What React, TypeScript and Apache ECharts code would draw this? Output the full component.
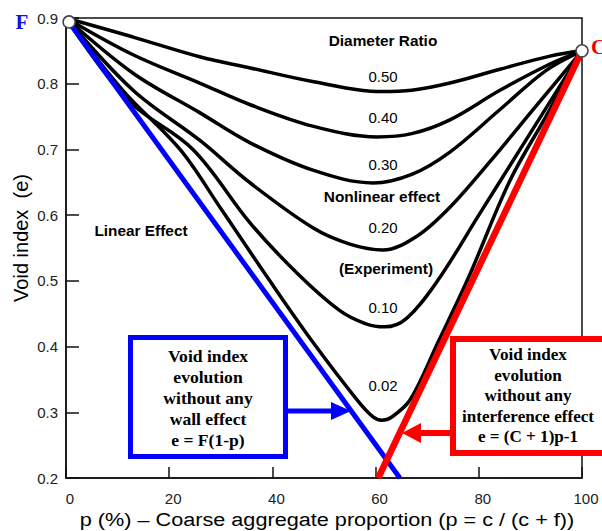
import React, { useEffect, useRef } from "react";
import * as echarts from "echarts";

const SANS = '"Liberation Sans", Arial, sans-serif';
const SERIF = '"Liberation Serif", "Times New Roman", serif';

const xTickLabels = ["0", "20", "40", "60", "80", "100"];
const ratioLabels = ["0.50", "0.40", "0.30", "0.20", "0.10", "0.02"];

const curve050 = [[0, 0.9], [13, 0.871], [25.9, 0.841], [35.7, 0.824], [48, 0.803], [61, 0.788], [67, 0.79], [74.4, 0.801], [84.1, 0.822], [93.8, 0.842], [100, 0.85]];
const curve040 = [[0, 0.9], [13, 0.844], [25.9, 0.801], [35.7, 0.768], [48, 0.735], [60.3, 0.719], [67, 0.724], [74.4, 0.745], [84.1, 0.79], [93.8, 0.83], [100, 0.85]];
const curve030 = [[0, 0.9], [13, 0.816], [25.9, 0.756], [35.7, 0.71], [48, 0.668], [59.5, 0.649], [67, 0.662], [74.4, 0.696], [84, 0.76], [93, 0.82], [100, 0.85]];
const curve020 = [[0, 0.9], [13, 0.79], [25.9, 0.714], [35.7, 0.649], [48, 0.58], [55, 0.556], [61.4, 0.547], [68, 0.568], [74.4, 0.612], [82, 0.68], [91, 0.765], [100, 0.85]];
const curve010 = [[0, 0.9], [12, 0.775], [24.6, 0.7], [35.7, 0.588], [45, 0.51], [53, 0.455], [58, 0.435], [61.8, 0.43], [66, 0.443], [72, 0.5], [80, 0.6], [88, 0.7], [100, 0.85]];
const curve002 = [[0, 0.9], [11, 0.79], [22.1, 0.7], [30, 0.61], [39.5, 0.5], [48, 0.405], [56.4, 0.319], [59.5, 0.293], [61.2, 0.288], [63, 0.292], [66.7, 0.319], [72, 0.405], [78, 0.505], [86, 0.652], [93, 0.75], [100, 0.85]];
const blueLine = [[0, 0.9], [64.7, 0.2]];
const redLine = [[60.5, 0.2], [100, 0.85]];
const endPoints = [[0.6, 0.894], [100, 0.85]];

const blueBoxLines = ["Void index", "evolution", "without any", "wall effect", "e = F(1-p)"];
const redBoxLines = ["Void index", "evolution", "without any", "interference effect", "e = (C + 1)p-1"];

function txt(text: string, x: number, y: number, font: string, fill = "#000", extra: any = {}) {
  return {
    type: "text",
    x,
    y,
    z: 110,
    ...extra,
    style: {
      text,
      font,
      fill,
      align: "center",
      verticalAlign: "middle",
      textAlign: "center",
      textVerticalAlign: "middle",
    },
  };
}

export default function App() {
  const ref = useRef<HTMLDivElement>(null);
  useEffect(() => {
    const chart = echarts.init(ref.current!, null, { renderer: "svg" });
    const curves = [curve050, curve040, curve030, curve020, curve010, curve002];
    const curveSeries = curves.map((d, i) => ({
      type: "line",
      name: ratioLabels[i],
      data: d,
      smooth: 0.35,
      showSymbol: false,
      clip: false,
      lineStyle: { color: "#000", width: 3.5 },
      z: 3,
    }));
    const labelY = [76, 117, 164, 227, 307, 385];
    const wide = { scaleX: 1.1 };
    const graphic: any[] = [
      txt("Diameter Ratio", 383, 41, `bold 14px ${SANS}`, "#000", wide),
      txt("Nonlinear effect", 382, 197, `bold 14px ${SANS}`, "#000", wide),
      txt("(Experiment)", 386, 269, `bold 14px ${SANS}`, "#000", wide),
      txt("Linear Effect", 141, 231, `bold 14px ${SANS}`, "#000", wide),
      ...ratioLabels.map((t, i) => txt(t, 383, labelY[i], `15px ${SANS}`)),
      txt("Void index  (e)", 21, 238, `20px ${SANS}`, "#000", { rotation: Math.PI / 2 }),
      txt("p (%) \u2013 Coarse aggregate proportion (p = c / (c + f))", 327, 519, `19px ${SANS}`, "#000", { scaleX: 1.14 }),
      txt("F", 22, 22, `bold 21px ${SERIF}`, "#1010e0"),
      {
        type: "text",
        x: 591,
        y: 47,
        z: 110,
        style: { text: "C", font: `bold 21px ${SERIF}`, fill: "#ee0000", align: "left", verticalAlign: "middle", textAlign: "left", textVerticalAlign: "middle" },
      },
      {
        type: "rect",
        z: 100,
        shape: { x: 130.5, y: 337.5, width: 155, height: 119 },
        style: { fill: "#fff", stroke: "#0000ff", lineWidth: 5 },
      },
      ...blueBoxLines.map((t, i) => txt(t, 208, 357 + i * 21, `bold 16px ${SERIF}`, "#000", wide)),
      {
        type: "line",
        z: 100,
        shape: { x1: 287, y1: 411, x2: 334, y2: 411 },
        style: { stroke: "#0000ff", lineWidth: 5 },
      },
      {
        type: "polygon",
        z: 100,
        shape: { points: [[331, 402], [351, 411], [331, 420]] },
        style: { fill: "#0000ff" },
      },
      {
        type: "rect",
        z: 100,
        shape: { x: 453, y: 339, width: 170, height: 114 },
        style: { fill: "#fff", stroke: "#ff0000", lineWidth: 6 },
      },
      ...redBoxLines.map((t, i) => txt(t, 528, 355 + i * 20.5, `bold 16px ${SERIF}`, "#000", { scaleX: 1.07 })),
      {
        type: "line",
        z: 100,
        shape: { x1: 451, y1: 433, x2: 418, y2: 433 },
        style: { stroke: "#ff0000", lineWidth: 6 },
      },
      {
        type: "polygon",
        z: 100,
        shape: { points: [[421, 423], [402, 433], [421, 443]] },
        style: { fill: "#ff0000" },
      },
    ];

    chart.setOption({
      animation: false,
      backgroundColor: "#fff",
      grid: {
        left: 66,
        right: 20,
        top: 18,
        bottom: 53,
        show: true,
        borderColor: "#111",
        borderWidth: 1.5,
        backgroundColor: "transparent",
      },
      xAxis: {
        type: "value",
        min: 0,
        max: 100,
        interval: 20,
        splitLine: { show: false },
        axisLine: { lineStyle: { color: "#111", width: 1.5 } },
        axisTick: { inside: true, length: 11, lineStyle: { color: "#111", width: 1.5 } },
        axisLabel: {
          margin: 13,
          color: "#222",
          fontSize: 15,
          fontFamily: SANS,
          padding: [0, 0, 0, 8],
          formatter: (v: number) => xTickLabels[Math.round(v / 20)] ?? "",
        },
      },
      yAxis: {
        type: "value",
        min: 0.2,
        max: 0.9,
        interval: 0.1,
        splitLine: { show: false },
        axisLine: { lineStyle: { color: "#111", width: 1.5 } },
        axisTick: { inside: true, length: 13, lineStyle: { color: "#111", width: 1.5 } },
        axisLabel: {
          margin: 8,
          color: "#222",
          fontSize: 15,
          fontFamily: SANS,
          formatter: (v: number) => v.toFixed(1),
        },
      },
      series: [
        ...curveSeries,
        {
          type: "line",
          name: "linear-F",
          data: blueLine,
          showSymbol: false,
          clip: false,
          lineStyle: { color: "#0000ff", width: 5 },
          z: 4,
        },
        {
          type: "line",
          name: "linear-C",
          data: redLine,
          showSymbol: false,
          clip: false,
          lineStyle: { color: "#ff0000", width: 6.5 },
          z: 4,
        },
        {
          type: "scatter",
          data: endPoints,
          symbol: "circle",
          symbolSize: 12,
          clip: false,
          itemStyle: { color: "#fff", borderColor: "#444", borderWidth: 1.5, opacity: 1 },
          z: 6,
        },
      ],
      graphic,
    });
    return () => chart.dispose();
  }, []);
  return (
    <div
      ref={ref}
      style={{ position: "absolute", left: 0, top: 0, width: 602, height: 531, background: "#fff" }}
    />
  );
}
